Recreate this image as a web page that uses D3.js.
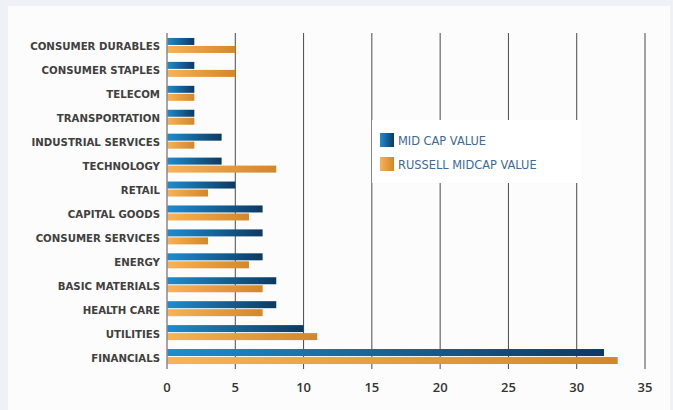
<!DOCTYPE html>
<html>
<head>
<meta charset="utf-8">
<script src="https://cdn.jsdelivr.net/npm/d3@7"></script>
<style>
  body { margin: 0; background: #eff1f6; }
  svg { display: block; }
</style>
</head>
<body>
<svg id="chart" width="673" height="410"></svg>
<script>
const categories = [
  "CONSUMER DURABLES", "CONSUMER STAPLES", "TELECOM", "TRANSPORTATION",
  "INDUSTRIAL SERVICES", "TECHNOLOGY", "RETAIL", "CAPITAL GOODS",
  "CONSUMER SERVICES", "ENERGY", "BASIC MATERIALS", "HEALTH CARE",
  "UTILITIES", "FINANCIALS"
];
const seriesNames = ["MID CAP VALUE", "RUSSELL MIDCAP VALUE"];
const midCapValue = [2, 2, 2, 2, 4, 4, 5, 7, 7, 7, 8, 8, 10, 32];
const russellMidcapValue = [5, 5, 2, 2, 2, 8, 3, 6, 3, 6, 7, 7, 11, 33];
const xTicks = [0, 5, 10, 15, 20, 25, 30, 35];

const rows = categories.map((c, i) => ({
  name: c,
  values: [
    { key: seriesNames[0], value: midCapValue[i] },
    { key: seriesNames[1], value: russellMidcapValue[i] }
  ]
}));

const svg = d3.select("#chart");

// white panel
svg.append("rect")
  .attr("x", 8).attr("y", 6)
  .attr("width", 662).attr("height", 410)
  .attr("fill", "#fcfcfc");

const defs = svg.append("defs");
const gradients = [
  { id: "gBlue", from: "#1f8ccf", to: "#0c3a62" },
  { id: "gOrange", from: "#f9b257", to: "#d2872a" }
];
gradients.forEach((g) => {
  const lg = defs.append("linearGradient").attr("id", g.id)
    .attr("x1", "0%").attr("x2", "100%").attr("y1", "0%").attr("y2", "0%");
  lg.append("stop").attr("offset", "0%").attr("stop-color", g.from);
  lg.append("stop").attr("offset", "100%").attr("stop-color", g.to);
});
const fillFor = { [seriesNames[0]]: "url(#gBlue)", [seriesNames[1]]: "url(#gOrange)" };

const x = d3.scaleLinear().domain([0, 35]).range([167, 645]);
const y = d3.scaleBand().domain(categories).range([33.5, 368.5]).paddingInner(0);
const bw = y.bandwidth();
const y1 = d3.scaleBand().domain(seriesNames)
  .range([bw / 2 - 7.5, bw / 2 + 7.5]).paddingInner(0.125);

// gridlines
svg.append("g")
  .selectAll("line")
  .data(xTicks.slice(1))
  .enter()
  .append("line")
  .attr("x1", (d) => x(d)).attr("x2", (d) => x(d))
  .attr("y1", 33).attr("y2", 369)
  .attr("stroke", "#4a4a4a")
  .attr("stroke-width", 1);

// bars
const rowG = svg.append("g")
  .selectAll("g")
  .data(rows)
  .enter()
  .append("g")
  .attr("transform", (d) => "translate(0," + y(d.name) + ")");

rowG.selectAll("rect")
  .data((d) => d.values)
  .enter()
  .append("rect")
  .attr("x", x(0))
  .attr("y", (d) => y1(d.key))
  .attr("width", (d) => x(d.value) - x(0))
  .attr("height", y1.bandwidth())
  .attr("fill", (d) => fillFor[d.key]);

// zero axis line
svg.append("line")
  .attr("x1", x(0)).attr("x2", x(0))
  .attr("y1", 33).attr("y2", 369)
  .attr("stroke", "#8a8a8a")
  .attr("stroke-width", 1.5);

// category labels
svg.append("g")
  .selectAll("text")
  .data(categories)
  .enter()
  .append("text")
  .attr("x", 160)
  .attr("y", (d) => y(d) + bw / 2 + 5)
  .attr("text-anchor", "end")
  .attr("font-family", "'DejaVu Sans', sans-serif")
  .attr("font-weight", "bold")
  .attr("font-size", 10.2)
  .attr("fill", "#404040")
  .text((d) => d);

// x axis tick labels
svg.append("g")
  .selectAll("text")
  .data(xTicks)
  .enter()
  .append("text")
  .attr("x", (d) => x(d))
  .attr("y", 392)
  .attr("text-anchor", "middle")
  .attr("font-family", "'Open Sans', sans-serif")
  .attr("font-weight", 600)
  .attr("font-size", 13)
  .attr("fill", "#333")
  .text((d) => d);

// legend
const legend = svg.append("g");
legend.append("rect")
  .attr("x", 372).attr("y", 120)
  .attr("width", 209).attr("height", 63)
  .attr("fill", "#ffffff");

legend.selectAll("rect.swatch")
  .data(seriesNames)
  .enter()
  .append("rect")
  .attr("class", "swatch")
  .attr("x", 380)
  .attr("y", (d, i) => 133 + i * 24)
  .attr("width", 14).attr("height", 14)
  .attr("fill", (d) => fillFor[d]);

legend.selectAll("text")
  .data(seriesNames)
  .enter()
  .append("text")
  .attr("x", 398)
  .attr("y", (d, i) => 145 + i * 24)
  .attr("font-family", "'DejaVu Sans', sans-serif")
  .attr("font-size", 11.4)
  .attr("fill", "#3d6a96")
  .text((d) => d);
</script>
</body>
</html>
